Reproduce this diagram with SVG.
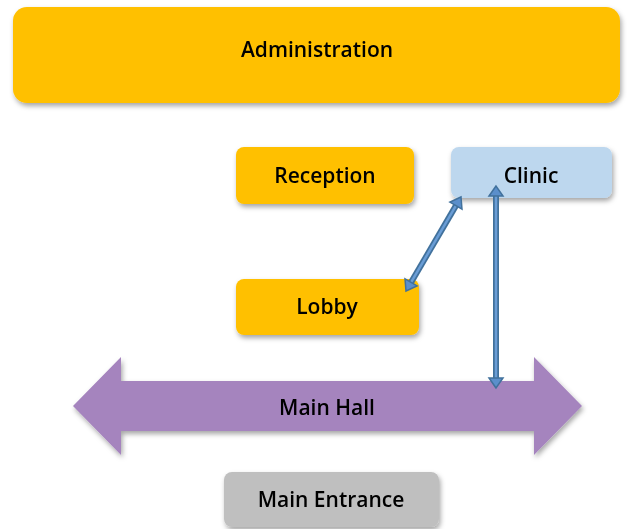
<svg xmlns="http://www.w3.org/2000/svg" width="630" height="529" viewBox="0 0 630 529">
<defs>
<filter id="sh" x="-10%" y="-20%" width="120%" height="150%">
<feDropShadow dx="1.5" dy="3" stdDeviation="2.5" flood-color="#000" flood-opacity="0.35"/>
</filter>
</defs>
<style>
.gold{fill:#FFC000}
.lbl{font-family:"Open Sans","Liberation Sans",sans-serif;font-weight:600;font-size:21px;fill:#000;text-anchor:middle;dominant-baseline:central}
.sh{stroke:#41719C;stroke-width:6;fill:none}
.si{stroke:#6A9DD6;stroke-width:2.5;fill:none}
.hd{fill:#5B8FCB;stroke:#41719C;stroke-width:1.5;stroke-linejoin:miter}
</style>
<g id="administration" filter="url(#sh)">
<rect class="gold" x="13" y="7" width="607" height="96" rx="14"/>
<text class="lbl" x="317" y="49">Administration</text>
</g>
<g id="reception" filter="url(#sh)">
<rect class="gold" x="236" y="147" width="178" height="57" rx="8"/>
<text class="lbl" x="325" y="175">Reception</text>
</g>
<g id="clinic" filter="url(#sh)">
<rect x="451" y="147" width="161" height="51" rx="8" fill="#BDD7EE"/>
<text class="lbl" x="531" y="175">Clinic</text>
</g>
<g id="lobby" filter="url(#sh)">
<rect class="gold" x="236" y="279" width="183" height="56" rx="8"/>
<text class="lbl" x="327" y="306">Lobby</text>
</g>
<g id="main-hall" filter="url(#sh)">
<polygon points="73,406 121,357 121,381 534,381 534,357 582,406 534,455 534,431 121,431 121,455" fill="#A584BE"/>
<text class="lbl" x="327" y="407">Main Hall</text>
</g>
<g id="main-entrance" filter="url(#sh)">
<rect x="224" y="472" width="215" height="55" rx="8" fill="#BFBFBF"/>
<text class="lbl" x="331" y="499">Main Entrance</text>
</g>
<g id="connectors">
<path class="sh" d="M455.95,205.63 L411.05,282.37"/>
<path class="si" d="M455.95,205.63 L411.05,282.37"/>
<polygon class="hd" points="461,197 461.99,209.17 449.91,202.09"/>
<polygon class="hd" points="406,291 417.09,285.91 405.01,278.83"/>
<path class="sh" d="M496,195 L496,379"/>
<path class="si" d="M496,195 L496,379"/>
<polygon class="hd" points="496,186 489,196 503,196"/>
<polygon class="hd" points="496,388 489,378 503,378"/>
</g>
</svg>
